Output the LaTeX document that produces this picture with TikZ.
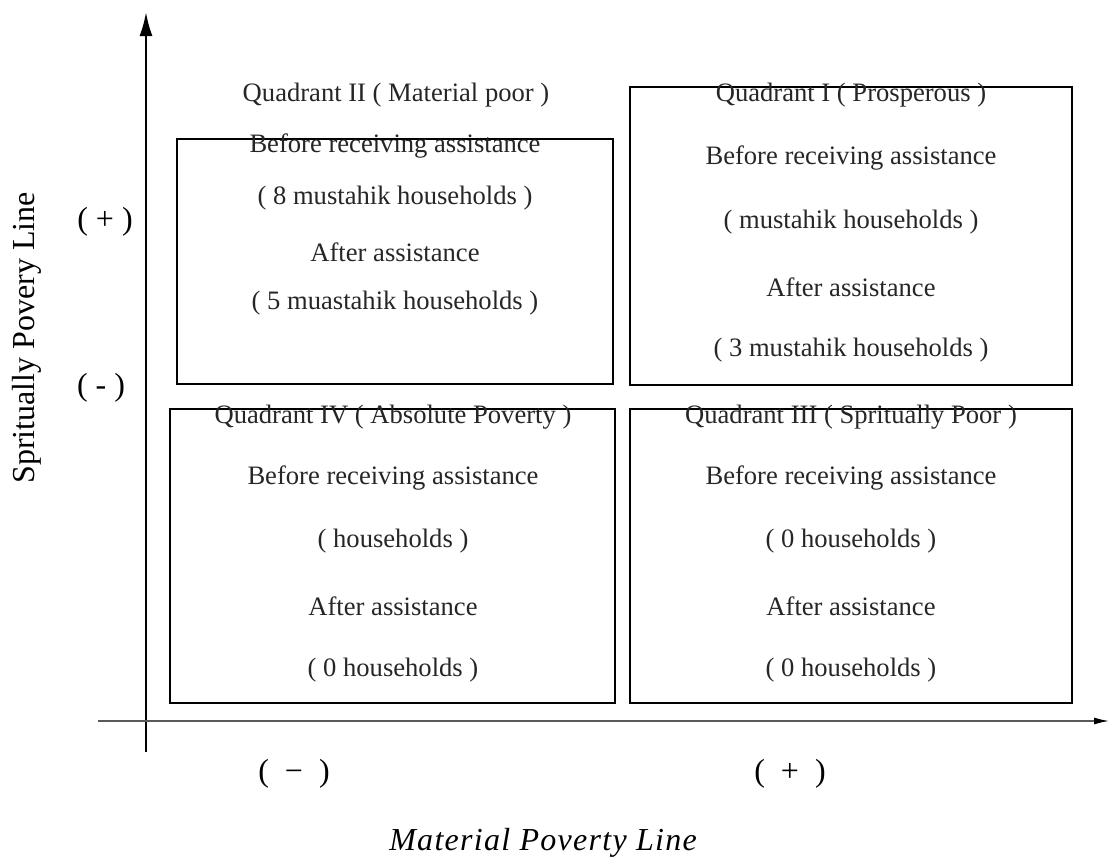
\documentclass[tikz,border=0pt]{standalone}
\usepackage{fontspec}
\setmainfont{Liberation Serif}
\newfontfamily\axisfont[LetterSpace=4]{Liberation Serif}
\usetikzlibrary{arrows.meta}

\begin{document}
\begin{tikzpicture}[x=0.5pt,y=-0.5pt,
    quad/.style={draw, line width=1pt, inner sep=0pt},
    txt/.style={font=\fontsize{13.3}{16}\selectfont, text=black!85, inner sep=0pt},
    sign/.style={font=\fontsize{16}{19}\selectfont, inner sep=0pt}]
    \useasboundingbox (0,0) rectangle (1110,857);

    % axes
    \coordinate (yb) at (146,752);
    \coordinate (yt) at (146,12);
    \coordinate (xl) at (98,721);
    \coordinate (xr) at (1110,721);
    \draw[line width=1.2pt, -{Latex[length=12pt,width=6.5pt]}] (yb) -- (yt);
    \draw[line width=1pt, black!65, -{Latex[length=8pt,width=3.5pt,color=black]}] (xl) -- (xr);

    % quadrant boxes
    \node[quad, minimum width=218pt, minimum height=122.5pt] at (395,261.5) (q2) {};
    \node[quad, minimum width=221pt, minimum height=149pt]   at (851,236)   (q1) {};
    \node[quad, minimum width=222.5pt, minimum height=147pt] at (392.5,556) (q4) {};
    \node[quad, minimum width=221pt, minimum height=147pt]   at (851,556)   (q3) {};

    % quadrant II
    \node[txt] at (396,95)  (q2t)  {Quadrant II ( Material poor )};
    \node[txt] at (395,146) (q2b)  {Before receiving assistance};
    \node[txt] at (395,198) (q2bn) {( 8 mustahik households )};
    \node[txt] at (395,252) (q2a)  {After assistance};
    \node[txt] at (395,303) (q2an) {( 5 muastahik households )};

    % quadrant I
    \node[txt] at (851,95)  (q1t)  {Quadrant I ( Prosperous )};
    \node[txt] at (851,158) (q1b)  {Before receiving assistance};
    \node[txt] at (851,222) (q1bn) {( mustahik households )};
    \node[txt] at (851,287) (q1a)  {After assistance};
    \node[txt] at (851,350) (q1an) {( 3 mustahik households )};

    % quadrant IV
    \node[txt] at (393,417) (q4t)  {Quadrant IV ( Absolute Poverty )};
    \node[txt] at (393,478) (q4b)  {Before receiving assistance};
    \node[txt] at (393,541) (q4bn) {( households )};
    \node[txt] at (393,606) (q4a)  {After assistance};
    \node[txt] at (393,670) (q4an) {( 0 households )};

    % quadrant III
    \node[txt] at (851,417) (q3t)  {Quadrant III ( Spritually Poor )};
    \node[txt] at (851,478) (q3b)  {Before receiving assistance};
    \node[txt] at (851,541) (q3bn) {( 0 households )};
    \node[txt] at (851,606) (q3a)  {After assistance};
    \node[txt] at (851,670) (q3an) {( 0 households )};

    % axis labels
    \node[sign] at (105,222) (yplus)  {( + )};
    \node[sign] at (101,388) (yminus) {( - )};
    \node[sign] at (294,774) (xminus) {(\ \ −\ \ )};
    \node[sign] at (790,774) (xplus)  {(\ \ +\ \ )};
    \node[sign, rotate=90] at (27,338) (ylab) {Spritually Povery Line};
    \node[font=\fontsize{16}{19}\axisfont\itshape, inner sep=0pt] at (543,843) (xlab) {Material Poverty Line};
\end{tikzpicture}
\end{document}
